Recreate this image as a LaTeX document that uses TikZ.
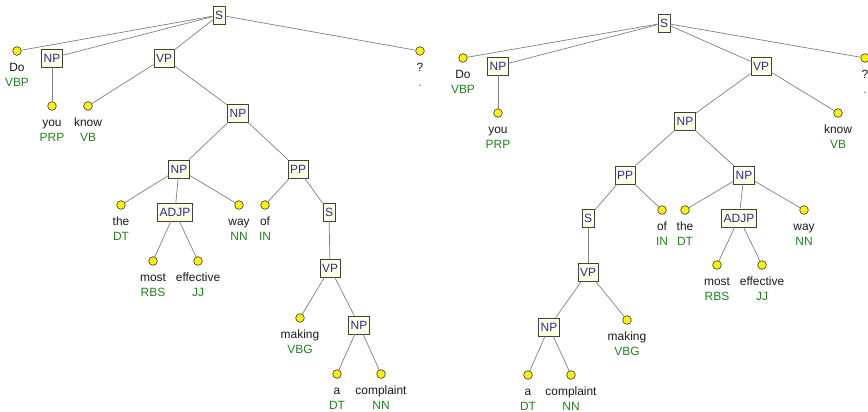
\documentclass[tikz,border=0pt]{standalone}
\usepackage{fontspec}
\setmainfont{Liberation Sans}
\definecolor{catblue}{RGB}{40,40,165}
\definecolor{tagreen}{RGB}{34,130,34}
\definecolor{boxfill}{RGB}{255,255,226}
\definecolor{edgegray}{RGB}{128,128,128}
\usetikzlibrary{arrows.meta}

% word on top, tag below it
\newcommand{\wt}[2]{\strut #1\\\strut\textcolor{tagreen}{#2}}

\begin{document}
\begin{tikzpicture}[
  x=0.03cm, y=-0.03cm,
  cat/.style={rectangle, draw=black!75, fill=boxfill, text=catblue, line width=0.6pt,
              font=\fontsize{10.2}{12.8}\selectfont, inner xsep=1.8pt, inner ysep=0pt,
              minimum height=15.4pt},
  leaf/.style={circle, draw=black!70, fill=yellow, line width=0.6pt,
               inner sep=0pt, minimum size=7.4pt},
  lab/.style={font=\fontsize{10.2}{12.8}\selectfont, align=center, inner sep=0pt,
              text=black!90},
  edge/.style={draw=edgegray, line width=0.6pt},
  label distance=4pt
]
\useasboundingbox (0,0) rectangle (868,411);

% ---- first parse ----
\node[cat] (aS) at (219,15) {S};
\node[leaf, label={[lab, name=aDo-l]below:{\wt{Do}{VBP}}}] (aDo) at (17,51) {};
\node[cat] (aNP1) at (52,58) {NP};
\node[leaf, label={[lab, name=aYou-l]below:{\wt{you}{PRP}}}] (aYou) at (52,106) {};
\node[cat] (aVP) at (164,58) {VP};
\node[leaf, label={[lab, name=aKnow-l]below:{\wt{know}{VB}}}] (aKnow) at (88,106) {};
\node[cat] (aNP2) at (238,113) {NP};
\node[leaf, label={[lab, name=aQ-l]below:{\wt{?}{.}}}] (aQ) at (420,51) {};
\node[cat] (aNP3) at (179,169) {NP};
\node[cat] (aPP) at (298,169) {PP};
\node[leaf, label={[lab, name=aThe-l]below:{\wt{the}{DT}}}] (aThe) at (121,205) {};
\node[cat] (aADJP) at (175,212) {ADJP};
\node[leaf, label={[lab, name=aWay-l]below:{\wt{way}{NN}}}] (aWay) at (239,205) {};
\node[leaf, label={[lab, name=aOf-l]below:{\wt{of}{IN}}}] (aOf) at (265,205) {};
\node[cat] (aS2) at (329,212) {S};
\node[leaf, label={[lab, name=aMost-l]below:{\wt{most}{RBS}}}] (aMost) at (153,261) {};
\node[leaf, label={[lab, name=aEff-l]below:{\wt{effective}{JJ}}}] (aEff) at (198,261) {};
\node[cat] (aVP2) at (330,268) {VP};
\node[leaf, label={[lab, name=aMak-l]below:{\wt{making}{VBG}}}] (aMak) at (300,318) {};
\node[cat] (aNP4) at (359,325) {NP};
\node[leaf, label={[lab, name=aA-l]below:{\wt{a}{DT}}}] (aA) at (337,374) {};
\node[leaf, label={[lab, name=aCmp-l]below:{\wt{complaint}{NN}}}] (aCmp) at (381,374) {};

\draw[edge] (aS) -- (aDo);
\draw[edge] (aS) -- (aNP1);
\draw[edge] (aS) -- (aVP);
\draw[edge] (aS) -- (aQ);
\draw[edge] (aNP1) -- (aYou);
\draw[edge] (aVP) -- (aKnow);
\draw[edge] (aVP) -- (aNP2);
\draw[edge] (aNP2) -- (aNP3);
\draw[edge] (aNP2) -- (aPP);
\draw[edge] (aNP3) -- (aThe);
\draw[edge] (aNP3) -- (aADJP);
\draw[edge] (aNP3) -- (aWay);
\draw[edge] (aADJP) -- (aMost);
\draw[edge] (aADJP) -- (aEff);
\draw[edge] (aPP) -- (aOf);
\draw[edge] (aPP) -- (aS2);
\draw[edge] (aS2) -- (aVP2);
\draw[edge] (aVP2) -- (aMak);
\draw[edge] (aVP2) -- (aNP4);
\draw[edge] (aNP4) -- (aA);
\draw[edge] (aNP4) -- (aCmp);

% ---- second parse ----
\node[cat] (bS) at (664,23) {S};
\node[leaf, label={[lab, name=bDo-l]below:{\wt{Do}{VBP}}}] (bDo) at (463,58) {};
\node[cat] (bNP1) at (498,66) {NP};
\node[leaf, label={[lab, name=bYou-l]below:{\wt{you}{PRP}}}] (bYou) at (498,113) {};
\node[cat] (bVP) at (761,66) {VP};
\node[leaf, label={[lab, name=bQ-l]below:{\wt{?}{.}}}] (bQ) at (865,58) {};
\node[cat] (bNP2) at (685,121) {NP};
\node[leaf, label={[lab, name=bKnow-l]below:{\wt{know}{VB}}}] (bKnow) at (838,113) {};
\node[cat] (bPP) at (625,175) {PP};
\node[cat] (bNP3) at (744,175) {NP};
\node[cat] (bS2) at (588,218) {S};
\node[leaf, label={[lab, name=bOf-l]below:{\wt{of}{IN}}}] (bOf) at (662,210) {};
\node[leaf, label={[lab, name=bThe-l]below:{\wt{the}{DT}}}] (bThe) at (685,210) {};
\node[cat] (bADJP) at (739,218) {ADJP};
\node[leaf, label={[lab, name=bWay-l]below:{\wt{way}{NN}}}] (bWay) at (804,210) {};
\node[cat] (bVP2) at (588,272) {VP};
\node[leaf, label={[lab, name=bMost-l]below:{\wt{most}{RBS}}}] (bMost) at (717,265) {};
\node[leaf, label={[lab, name=bEff-l]below:{\wt{effective}{JJ}}}] (bEff) at (762,265) {};
\node[cat] (bNP4) at (549,327) {NP};
\node[leaf, label={[lab, name=bMak-l]below:{\wt{making}{VBG}}}] (bMak) at (627,320) {};
\node[leaf, label={[lab, name=bA-l]below:{\wt{a}{DT}}}] (bA) at (528,375) {};
\node[leaf, label={[lab, name=bCmp-l]below:{\wt{complaint}{NN}}}] (bCmp) at (571,375) {};

\draw[edge] (bS) -- (bDo);
\draw[edge] (bS) -- (bNP1);
\draw[edge] (bS) -- (bVP);
\draw[edge] (bS) -- (bQ);
\draw[edge] (bNP1) -- (bYou);
\draw[edge] (bVP) -- (bNP2);
\draw[edge] (bVP) -- (bKnow);
\draw[edge] (bNP2) -- (bPP);
\draw[edge] (bNP2) -- (bNP3);
\draw[edge] (bPP) -- (bS2);
\draw[edge] (bPP) -- (bOf);
\draw[edge] (bNP3) -- (bThe);
\draw[edge] (bNP3) -- (bADJP);
\draw[edge] (bNP3) -- (bWay);
\draw[edge] (bADJP) -- (bMost);
\draw[edge] (bADJP) -- (bEff);
\draw[edge] (bS2) -- (bVP2);
\draw[edge] (bVP2) -- (bNP4);
\draw[edge] (bVP2) -- (bMak);
\draw[edge] (bNP4) -- (bA);
\draw[edge] (bNP4) -- (bCmp);
\end{tikzpicture}
\end{document}
